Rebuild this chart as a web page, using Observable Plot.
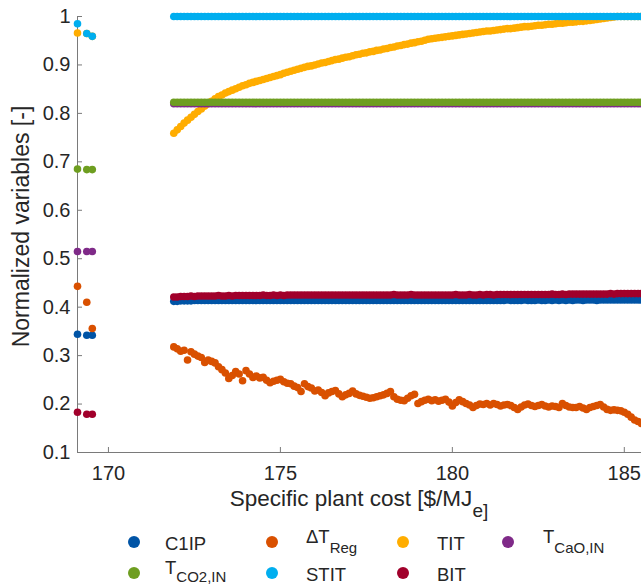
<!DOCTYPE html>
<html><head><meta charset="utf-8">
<script src="https://cdn.jsdelivr.net/npm/d3@7"></script>
<script src="https://cdn.jsdelivr.net/npm/@observablehq/plot@0.6"></script>
<style>
body{margin:0;background:#fff;}
#wrap{position:relative;width:641px;height:586px;overflow:hidden;font-family:"Liberation Sans",Arial,Helvetica,sans-serif;color:#262626;background:#fff;}
#wrap svg{display:block;}
.lab{position:absolute;white-space:nowrap;line-height:0.85;}
.sw{position:absolute;width:12px;height:12px;border-radius:50%;}
</style></head><body><div id="wrap"></div>
<script>
// ---------- data ----------
const seriesNames = ["C1IP","ΔT_Reg","TIT","T_CaO,IN","T_CO2,IN","STIT","BIT"];
const seriesColors = ["#0054a6","#d95000","#ffad00","#7f2a88","#6e9e20","#00aeef","#a1002b"];
const xTicks = [170,175,180,185];
const xTickLabels = ["170","175","180","185"];
const yTicks = [0.1,0.2,0.3,0.4,0.5,0.6,0.7,0.8,0.9,1];
const yTickLabels = ["0.1","0.2","0.3","0.4","0.5","0.6","0.7","0.8","0.9","1"];
const xLabel = "Specific plant cost [$/MJ_e]";
const yLabel = "Normalized variables [-]";

// isolated points near the y axis
const xLeft = [169.1, 169.37, 169.53];
const leftC1IP = [0.344, 0.342, 0.342];
const leftDT   = [0.443, 0.410, 0.356];
const leftTIT  = [0.966, 0.965, 0.959];
const leftCaO  = [0.515, 0.515, 0.515];
const leftCO2  = [0.685, 0.684, 0.684];
const leftSTIT = [0.985, 0.965, 0.959];
const leftBIT  = [0.183, 0.179, 0.179];

// main sweep
const xMain = [171.9,
172.0,172.1,172.2,172.3,172.4,172.5,172.6,172.7,172.8,172.9,
173.0,173.1,173.2,173.3,173.4,173.5,173.6,173.7,173.8,173.9,
174.0,174.1,174.2,174.3,174.4,174.5,174.6,174.7,174.8,174.9,
175.0,175.1,175.2,175.3,175.4,175.5,175.6,175.7,175.8,175.9,
176.0,176.1,176.2,176.3,176.4,176.5,176.6,176.7,176.8,176.9,
177.0,177.1,177.2,177.3,177.4,177.5,177.6,177.7,177.8,177.9,
178.0,178.1,178.2,178.3,178.4,178.5,178.6,178.7,178.8,178.9,
179.0,179.1,179.2,179.3,179.4,179.5,179.6,179.7,179.8,179.9,
180.0,180.1,180.2,180.3,180.4,180.5,180.6,180.7,180.8,180.9,
181.0,181.1,181.2,181.3,181.4,181.5,181.6,181.7,181.8,181.9,
182.0,182.1,182.2,182.3,182.4,182.5,182.6,182.7,182.8,182.9,
183.0,183.1,183.2,183.3,183.4,183.5,183.6,183.7,183.8,183.9,
184.0,184.1,184.2,184.3,184.4,184.5,184.6,184.7,184.8,184.9,
185.0,185.1,185.2,185.3,185.4,185.5];

const mainC1IP = [0.412,
0.412,0.413,0.413,0.413,0.413,0.414,0.414,0.414,0.414,0.414,
0.414,0.414,0.414,0.414,0.414,0.414,0.414,0.414,0.414,0.414,
0.414,0.414,0.414,0.414,0.414,0.414,0.414,0.414,0.414,0.414,
0.414,0.414,0.414,0.414,0.414,0.414,0.414,0.414,0.414,0.414,
0.414,0.414,0.414,0.414,0.414,0.414,0.414,0.414,0.414,0.414,
0.414,0.414,0.414,0.414,0.414,0.414,0.414,0.414,0.414,0.414,
0.414,0.414,0.414,0.414,0.414,0.414,0.414,0.414,0.414,0.414,
0.414,0.414,0.414,0.414,0.414,0.414,0.414,0.414,0.414,0.414,
0.414,0.414,0.414,0.414,0.414,0.414,0.414,0.414,0.414,0.414,
0.414,0.414,0.414,0.414,0.414,0.414,0.415,0.414,0.414,0.414,
0.414,0.415,0.414,0.414,0.414,0.415,0.414,0.414,0.415,0.414,
0.415,0.414,0.415,0.414,0.415,0.414,0.415,0.415,0.414,0.415,
0.415,0.415,0.414,0.415,0.415,0.415,0.415,0.415,0.415,0.415,
0.415,0.415,0.415,0.415,0.415,0.415];

const mainDT = [0.318,
0.314,0.309,0.311,0.291,0.308,0.303,0.299,0.296,0.286,0.291,
0.288,0.285,0.277,0.271,0.264,0.253,0.259,0.267,0.262,0.248,
0.269,0.262,0.255,0.258,0.254,0.255,0.249,0.244,0.247,0.249,
0.251,0.246,0.243,0.242,0.237,0.234,0.226,0.242,0.236,0.233,
0.227,0.229,0.224,0.217,0.223,0.226,0.228,0.221,0.215,0.219,
0.222,0.227,0.221,0.218,0.216,0.214,0.212,0.213,0.215,0.217,
0.219,0.222,0.226,0.215,0.210,0.208,0.207,0.212,0.217,0.220,
0.201,0.205,0.208,0.210,0.207,0.209,0.206,0.208,0.210,0.204,
0.196,0.203,0.209,0.205,0.201,0.198,0.193,0.197,0.200,0.199,
0.201,0.198,0.201,0.199,0.196,0.198,0.199,0.197,0.193,0.189,
0.194,0.198,0.200,0.197,0.195,0.197,0.199,0.196,0.194,0.196,
0.195,0.193,0.201,0.197,0.194,0.193,0.193,0.195,0.192,0.189,
0.193,0.195,0.197,0.199,0.194,0.189,0.187,0.188,0.187,0.186,
0.183,0.179,0.173,0.167,0.164,0.160];

const mainTIT = [0.759,
0.766,0.773,0.780,0.786,0.792,0.798,0.804,0.809,0.815,0.820,
0.825,0.830,0.835,0.838,0.842,0.845,0.848,0.851,0.854,0.857,
0.859,0.862,0.864,0.866,0.868,0.870,0.872,0.874,0.876,0.878,
0.880,0.883,0.885,0.887,0.889,0.891,0.893,0.895,0.897,0.898,
0.900,0.902,0.904,0.905,0.907,0.909,0.911,0.912,0.914,0.916,
0.917,0.919,0.921,0.922,0.924,0.925,0.927,0.928,0.930,0.931,
0.933,0.934,0.936,0.937,0.939,0.940,0.942,0.943,0.945,0.946,
0.948,0.949,0.951,0.953,0.954,0.955,0.956,0.957,0.958,0.959,
0.960,0.961,0.962,0.963,0.964,0.965,0.966,0.967,0.968,0.969,
0.970,0.970,0.971,0.972,0.973,0.974,0.975,0.975,0.976,0.977,
0.978,0.979,0.979,0.980,0.981,0.982,0.982,0.983,0.984,0.984,
0.985,0.986,0.986,0.987,0.988,0.988,0.989,0.990,0.990,0.991,
0.992,0.993,0.994,0.995,0.996,0.997,0.998,0.999,1.000,1.000,
1.000,1.000,1.000,1.000,1.000,1.000];

const mainCaO = [0.820,
0.820,0.820,0.820,0.820,0.820,0.820,0.820,0.820,0.820,0.820,
0.820,0.820,0.820,0.820,0.820,0.820,0.820,0.820,0.820,0.820,
0.820,0.820,0.820,0.820,0.820,0.820,0.820,0.820,0.820,0.820,
0.820,0.820,0.820,0.820,0.820,0.820,0.820,0.820,0.820,0.820,
0.820,0.820,0.820,0.820,0.820,0.820,0.820,0.820,0.820,0.820,
0.820,0.820,0.820,0.820,0.820,0.820,0.820,0.820,0.820,0.820,
0.820,0.820,0.820,0.820,0.820,0.820,0.820,0.820,0.820,0.820,
0.820,0.820,0.820,0.820,0.820,0.820,0.820,0.820,0.820,0.820,
0.820,0.820,0.820,0.820,0.820,0.820,0.820,0.820,0.820,0.820,
0.820,0.820,0.820,0.820,0.820,0.820,0.820,0.820,0.820,0.820,
0.820,0.820,0.820,0.820,0.820,0.820,0.820,0.820,0.820,0.820,
0.820,0.820,0.820,0.820,0.820,0.820,0.820,0.820,0.820,0.820,
0.820,0.820,0.820,0.820,0.820,0.820,0.820,0.820,0.820,0.820,
0.820,0.820,0.820,0.820,0.820,0.820];

const mainCO2 = [0.823,
0.823,0.823,0.823,0.823,0.823,0.823,0.823,0.823,0.823,0.823,
0.823,0.823,0.823,0.823,0.823,0.823,0.823,0.823,0.823,0.823,
0.823,0.823,0.823,0.823,0.823,0.823,0.823,0.823,0.823,0.823,
0.823,0.823,0.823,0.823,0.823,0.823,0.823,0.823,0.823,0.823,
0.823,0.823,0.823,0.823,0.823,0.823,0.823,0.823,0.823,0.823,
0.823,0.823,0.823,0.823,0.823,0.823,0.823,0.823,0.823,0.823,
0.823,0.823,0.823,0.823,0.823,0.823,0.823,0.823,0.823,0.823,
0.823,0.823,0.823,0.823,0.823,0.823,0.823,0.823,0.823,0.823,
0.823,0.823,0.823,0.823,0.823,0.823,0.823,0.823,0.823,0.823,
0.823,0.823,0.823,0.823,0.823,0.823,0.823,0.823,0.823,0.823,
0.823,0.823,0.823,0.823,0.823,0.823,0.823,0.823,0.823,0.823,
0.823,0.823,0.823,0.823,0.823,0.823,0.823,0.823,0.823,0.823,
0.823,0.823,0.823,0.823,0.823,0.823,0.823,0.823,0.823,0.823,
0.823,0.823,0.823,0.823,0.823,0.823];

const mainSTIT = [1,
1,1,1,1,1,1,1,1,1,1,
1,1,1,1,1,1,1,1,1,1,
1,1,1,1,1,1,1,1,1,1,
1,1,1,1,1,1,1,1,1,1,
1,1,1,1,1,1,1,1,1,1,
1,1,1,1,1,1,1,1,1,1,
1,1,1,1,1,1,1,1,1,1,
1,1,1,1,1,1,1,1,1,1,
1,1,1,1,1,1,1,1,1,1,
1,1,1,1,1,1,1,1,1,1,
1,1,1,1,1,1,1,1,1,1,
1,1,1,1,1,1,1,1,1,1,
1,1,1,1,1,1,1,1,1,1,
1,1,1,1,1,1];

const mainBIT = [0.421,
0.421,0.422,0.422,0.422,0.423,0.422,0.423,0.423,0.423,0.423,
0.423,0.423,0.424,0.423,0.423,0.424,0.423,0.424,0.424,0.424,
0.424,0.424,0.424,0.424,0.424,0.425,0.424,0.424,0.425,0.424,
0.425,0.424,0.425,0.425,0.425,0.425,0.425,0.425,0.425,0.425,
0.425,0.425,0.425,0.425,0.425,0.425,0.425,0.425,0.425,0.425,
0.425,0.425,0.425,0.425,0.425,0.425,0.425,0.425,0.425,0.425,
0.425,0.425,0.425,0.426,0.425,0.425,0.425,0.425,0.426,0.425,
0.425,0.425,0.425,0.425,0.425,0.425,0.425,0.425,0.425,0.425,
0.425,0.426,0.425,0.425,0.425,0.426,0.425,0.425,0.426,0.425,
0.426,0.426,0.425,0.426,0.426,0.426,0.426,0.426,0.426,0.426,
0.426,0.426,0.426,0.426,0.426,0.426,0.426,0.426,0.426,0.427,
0.426,0.426,0.427,0.426,0.427,0.427,0.427,0.427,0.427,0.427,
0.427,0.427,0.427,0.427,0.427,0.427,0.428,0.427,0.428,0.428,
0.428,0.428,0.428,0.428,0.428,0.428];

const leftVals = [leftC1IP, leftDT, leftTIT, leftCaO, leftCO2, leftSTIT, leftBIT];
const mainVals = [mainC1IP, mainDT, mainTIT, mainCaO, mainCO2, mainSTIT, mainBIT];

// ---------- table ----------
const rows = [];
seriesNames.forEach((name, i) => {
  xLeft.forEach((x, j) => rows.push({series: name, x, y: leftVals[i][j]}));
  xMain.forEach((x, j) => rows.push({series: name, x, y: mainVals[i][j]}));
});

// ---------- layout ----------
const W = 641, H = 520, mL = 77, mT = 16, mB = 68, mR = 0;
const plotW = W - mL - mR, plotH = H - mT - mB;
const xDomain = [169.1, 185.5], yDomain = [0.1, 1];
const axisCol = "#7a7a7a", textCol = "#262626";
const font = "'Liberation Sans', Arial, Helvetica, sans-serif";

const marks = [
  Plot.ruleX([xDomain[0]], {stroke: axisCol, strokeWidth: 1}),
  Plot.ruleY([yDomain[0]], {stroke: axisCol, strokeWidth: 1}),
  Plot.tickX(xTicks, {x: d => d, stroke: axisCol, insetTop: plotH - 5}),
  Plot.tickY(yTicks, {y: d => d, stroke: axisCol, insetRight: plotW - 5}),
  Plot.axisX({ticks: xTicks, tickSize: 0, tickPadding: 13, fontSize: 20, label: null,
    tickFormat: d => xTickLabels[xTicks.indexOf(d)], fill: textCol}),
  Plot.axisY({ticks: yTicks, tickSize: 0, tickPadding: 7, fontSize: 20, label: null,
    tickFormat: d => yTickLabels[yTicks.indexOf(d)], fill: textCol}),
  Plot.text([yLabel], {text: d => d, frameAnchor: "left", dx: -56, dy: -8, rotate: -90,
    fontSize: 23, fill: textCol, textAnchor: "middle", lineAnchor: "middle"})
];
seriesNames.forEach((name, i) => {
  marks.push(Plot.dot(rows.filter(d => d.series === name),
    {x: "x", y: "y", r: 3.8, fill: seriesColors[i], stroke: null}));
});

const chart = Plot.plot({
  width: W, height: H,
  marginLeft: mL, marginRight: mR, marginTop: mT, marginBottom: mB,
  x: {domain: xDomain, axis: null},
  y: {domain: yDomain, axis: null},
  style: {fontFamily: font, background: "white", overflow: "hidden"},
  marks
});

const wrap = document.getElementById("wrap");
wrap.appendChild(chart);

function richLabel(s, subSize, subShift) {
  const k = s.indexOf("_");
  if (k < 0) return {html: s, sub: false};
  return {html: s.slice(0, k) + `<span style="font-size:${subSize}px;position:relative;top:${subShift}px">${s.slice(k + 1)}</span>`, sub: true};
}

const baseOff = 0.7715; // baseline offset (em) for line-height 0.85

// x axis title (HTML for subscript)
{
  const lab = richLabel(xLabel, 19, 11);
  const d = document.createElement("div");
  d.className = "lab";
  d.style.fontSize = "22.5px";
  d.style.left = mL + "px";
  d.style.width = plotW + "px";
  d.style.textAlign = "center";
  d.style.top = (506 - baseOff * 22.5) + "px";
  d.innerHTML = lab.html;
  wrap.appendChild(d);
}

// legend
const legFont = 18.5;
const colDot = [134, 272, 403, 508], colText = [165, 306, 437, 543];
const rowBase = [550, 581.5];
const subShift = [10, 8];
seriesNames.forEach((name, i) => {
  const r = Math.floor(i / 4), c = i % 4;
  const sw = document.createElement("div");
  sw.className = "sw";
  sw.style.background = seriesColors[i];
  sw.style.left = (colDot[c] - 6) + "px";
  sw.style.top = (rowBase[r] - 8.5 - 6) + "px";
  wrap.appendChild(sw);
  const lab = richLabel(name, 15, subShift[r]);
  const t = document.createElement("div");
  t.className = "lab";
  t.style.fontSize = legFont + "px";
  t.style.left = colText[c] + "px";
  const base = rowBase[r] - (lab.sub ? 7 : 0);
  t.style.top = (base - baseOff * legFont) + "px";
  t.innerHTML = lab.html;
  wrap.appendChild(t);
});
</script></body></html>
